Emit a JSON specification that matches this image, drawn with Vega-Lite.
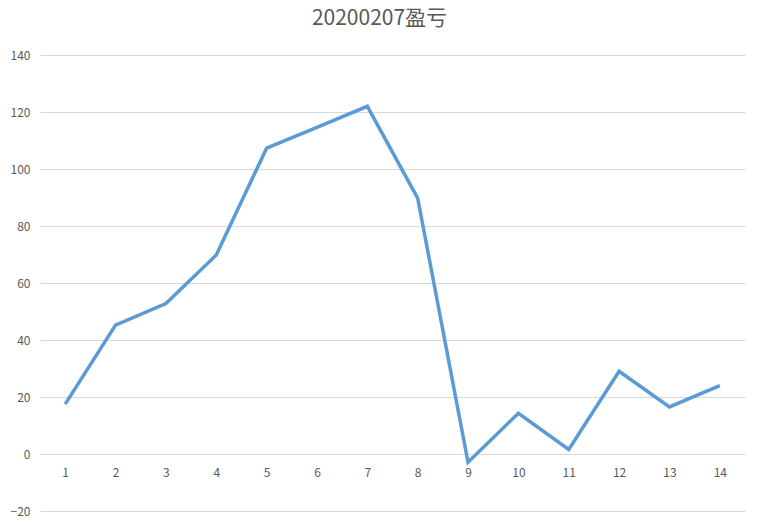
{
  "$schema": "https://vega.github.io/schema/vega-lite/v6.json",
  "autosize": "none",
  "width": 705,
  "height": 456,
  "padding": {"left": 40, "top": 55, "right": 18, "bottom": 10},
  "background": "white",
  "title": {
    "text": "20200207盈亏",
    "font": "Noto Sans CJK SC",
    "fontSize": 21,
    "fontWeight": "normal",
    "color": "#595959",
    "anchor": "middle",
    "dx": -13,
    "offset": 20
  },
  "data": {
    "values": [
      {"x": "1", "v": 17.5},
      {"x": "2", "v": 45.2},
      {"x": "3", "v": 52.8},
      {"x": "4", "v": 69.8},
      {"x": "5", "v": 107.3},
      {"x": "6", "v": 114.6},
      {"x": "7", "v": 122},
      {"x": "8", "v": 89.8},
      {"x": "9", "v": -2.9},
      {"x": "10", "v": 14.3},
      {"x": "11", "v": 1.6},
      {"x": "12", "v": 29},
      {"x": "13", "v": 16.5},
      {"x": "14", "v": 24}
    ]
  },
  "config": {
    "view": {"stroke": null},
    "axis": {
      "labelFont": "Noto Sans CJK SC",
      "labelFontSize": 12,
      "labelColor": "#595959",
      "domain": false,
      "ticks": false,
      "title": null
    }
  },
  "mark": {"type": "line", "color": "#5B9BD5", "strokeWidth": 3.5, "strokeJoin": "miter"},
  "encoding": {
    "x": {
      "field": "x",
      "type": "ordinal",
      "sort": null,
      "scale": {"type": "point", "padding": 0.5},
      "axis": {"labelAngle": 0, "offset": -56, "labelPadding": 12, "grid": false}
    },
    "y": {
      "field": "v",
      "type": "quantitative",
      "scale": {"domain": [-20, 140], "nice": false, "zero": false},
      "axis": {"values": [-20, 0, 20, 40, 60, 80, 100, 120, 140], "grid": true, "gridColor": "#d9d9d9", "gridWidth": 1, "labelPadding": 10}
    }
  }
}
